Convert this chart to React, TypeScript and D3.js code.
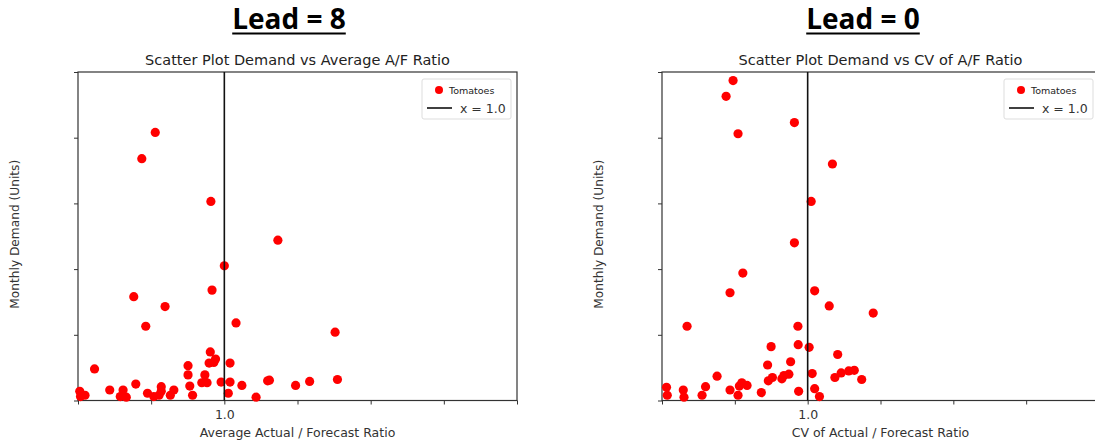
import React, { useRef, useEffect } from "react";
import * as d3 from "d3";

// Lead = 8 : average A/F ratio vs demand (demand in axis units 0..5)
const leftX = [0.528, 0.436, 0.908, 1.366, 1.0, 0.916, 0.381, 0.595, 0.463, 1.08, 1.757, 0.904, 0.94, 0.896, 0.928, 1.039, 0.113, 0.752, 0.752, 0.867, 0.846, 0.882, 0.978, 1.039, 0.764, 1.12, 1.296, 1.308, 1.487, 1.583, 1.773, 0.395, 0.217, 0.308, 0.569, 0.569, 0.655, 0.631, 0.475, 0.518, 0.554, 0.289, 0.33, 0.783, 1.027, 1.217, 0.012, 0.048, 0.017];
const leftY = [4.08, 3.68, 3.03, 2.44, 2.05, 1.68, 1.58, 1.43, 1.13, 1.18, 1.04, 0.74, 0.63, 0.57, 0.58, 0.57, 0.48, 0.53, 0.39, 0.39, 0.27, 0.27, 0.28, 0.28, 0.22, 0.23, 0.3, 0.31, 0.23, 0.29, 0.32, 0.25, 0.16, 0.16, 0.21, 0.14, 0.16, 0.08, 0.11, 0.06, 0.08, 0.06, 0.05, 0.08, 0.11, 0.05, 0.14, 0.08, 0.06];

// Lead = 0 : CV of A/F ratio vs demand
const rightX = [0.488, 0.44, 0.522, 0.909, 1.17, 1.024, 0.909, 0.555, 0.467, 1.048, 1.148, 1.45, 0.172, 0.933, 0.749, 0.935, 1.01, 1.206, 0.883, 0.725, 0.378, 0.871, 0.837, 0.823, 0.758, 0.73, 1.031, 1.187, 1.23, 1.282, 1.32, 1.371, 0.031, 0.036, 0.146, 0.151, 0.275, 0.299, 0.467, 0.522, 0.531, 0.548, 0.584, 0.682, 0.938, 1.048, 1.081];
const rightY = [4.87, 4.63, 4.06, 4.23, 3.6, 3.03, 2.4, 1.94, 1.64, 1.67, 1.44, 1.33, 1.13, 1.13, 0.82, 0.85, 0.81, 0.7, 0.59, 0.54, 0.37, 0.4, 0.38, 0.33, 0.35, 0.3, 0.41, 0.35, 0.42, 0.45, 0.46, 0.32, 0.2, 0.08, 0.16, 0.05, 0.08, 0.21, 0.16, 0.08, 0.22, 0.27, 0.23, 0.12, 0.14, 0.18, 0.06];

const xTicks = [0, 0.5, 1.0, 1.5, 2.0, 2.5, 3.0];
const yTicks = [0, 1, 2, 3, 4, 5];
const seriesName = "Tomatoes";
const refLineLabel = "x = 1.0";

const panels = [
  { lead: "Lead = 8", leadX: 289, title: "Scatter Plot Demand vs Average A/F Ratio", xLabel: "Average Actual / Forecast Ratio", xs: leftX, ys: leftY, x0: 78, x1: 517 },
  { lead: "Lead = 0", leadX: 863, title: "Scatter Plot Demand vs CV of A/F Ratio", xLabel: "CV of Actual / Forecast Ratio", xs: rightX, ys: rightY, x0: 662, x1: 1099 },
];

const W = 1095;
const H = 441;
const top = 72;
const bottom = 400.5;
const font = "'DejaVu Sans', sans-serif";

const App = () => {
  const svgRef = useRef<SVGSVGElement>(null);

  useEffect(() => {
    document.body.style.margin = "0";
    const svg = d3.select(svgRef.current);
    svg.selectAll("*").remove();

    panels.forEach((p) => {
      const x = d3.scaleLinear().domain([0, 3]).range([p.x0, p.x1]);
      const y = d3.scaleLinear().domain([0, 5]).range([bottom, top]);
      const g = svg.append("g");
      const cx = (p.x0 + p.x1) / 2;

      // big heading
      const lead = g.append("text")
        .attr("x", p.leadX)
        .attr("y", 29)
        .attr("text-anchor", "middle")
        .attr("font-family", "'Open Sans', sans-serif")
        .attr("font-weight", "bold")
        .attr("font-size", 28)
        .attr("fill", "#000")
        .text(p.lead);
      const bb = (lead.node() as SVGTextElement).getBBox();
      g.append("line")
        .attr("x1", bb.x).attr("x2", bb.x + bb.width)
        .attr("y1", 33.5).attr("y2", 33.5)
        .attr("stroke", "#000").attr("stroke-width", 2);

      g.append("text")
        .attr("x", cx)
        .attr("y", 65)
        .attr("text-anchor", "middle")
        .attr("font-family", font)
        .attr("font-size", 14.5)
        .attr("fill", "#222")
        .text(p.title);

      // axes
      const xAxis = g.append("g")
        .attr("transform", `translate(0,${bottom})`)
        .call(d3.axisBottom(x).tickValues(xTicks).tickSize(4).tickFormat((d) => (d === 1 ? "1.0" : "")));
      xAxis.select(".domain").remove();
      xAxis.selectAll("line").attr("stroke", "#333");
      xAxis.selectAll("text").attr("font-family", font).attr("font-size", 12.5).attr("fill", "#333").attr("dy", "0.95em");

      const yAxis = g.append("g")
        .attr("transform", `translate(${p.x0},0)`)
        .call(d3.axisLeft(y).tickValues(yTicks).tickSize(4).tickFormat(() => ""));
      yAxis.select(".domain").remove();
      yAxis.selectAll("line").attr("stroke", "#333");

      g.append("rect")
        .attr("x", p.x0).attr("y", top)
        .attr("width", p.x1 - p.x0).attr("height", bottom - top)
        .attr("fill", "none").attr("stroke", "#333").attr("stroke-width", 1.2);

      g.append("text")
        .attr("x", cx)
        .attr("y", 437)
        .attr("text-anchor", "middle")
        .attr("font-family", font)
        .attr("font-size", 12.5)
        .attr("fill", "#333")
        .text(p.xLabel);

      g.append("text")
        .attr("transform", `translate(${p.x0 - 59},${(top + bottom) / 2 - 2}) rotate(-90)`)
        .attr("text-anchor", "middle")
        .attr("font-family", font)
        .attr("font-size", 12.2)
        .attr("fill", "#333")
        .text("Monthly Demand (Units)");

      // points
      g.append("g")
        .selectAll("circle")
        .data(d3.range(p.xs.length))
        .enter()
        .append("circle")
        .attr("cx", (i) => x(p.xs[i]))
        .attr("cy", (i) => y(p.ys[i]))
        .attr("r", 4.6)
        .attr("fill", "#ff0000");

      // reference line
      g.append("line")
        .attr("x1", x(1)).attr("x2", x(1))
        .attr("y1", top).attr("y2", bottom)
        .attr("stroke", "#111").attr("stroke-width", 1.6);

      // legend
      const lx = p.x1 - 95;
      const lg = g.append("g");
      lg.append("rect")
        .attr("x", lx).attr("y", 79)
        .attr("width", 89).attr("height", 40)
        .attr("rx", 2)
        .attr("fill", "#fff").attr("stroke", "#ddd");
      lg.append("circle").attr("cx", lx + 17).attr("cy", 90).attr("r", 4).attr("fill", "#ff0000");
      lg.append("text")
        .attr("x", lx + 27).attr("y", 93.5)
        .attr("font-family", font).attr("font-size", 9.5).attr("fill", "#222")
        .text(seriesName);
      lg.append("line")
        .attr("x1", lx + 5).attr("x2", lx + 30)
        .attr("y1", 108).attr("y2", 108)
        .attr("stroke", "#111").attr("stroke-width", 1.6);
      lg.append("text")
        .attr("x", lx + 38).attr("y", 112.5)
        .attr("font-family", font).attr("font-size", 12.5).attr("fill", "#333")
        .text(refLineLabel);
    });
  }, []);

  return <svg ref={svgRef} width={W} height={H} style={{ display: "block", background: "#fff" }}></svg>;
};

export default App;
